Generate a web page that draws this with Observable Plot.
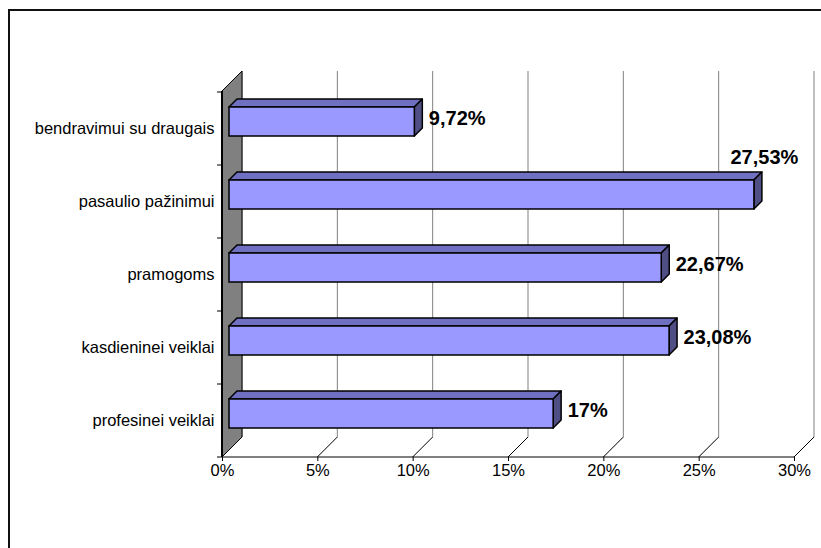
<!DOCTYPE html>
<html><head><meta charset="utf-8">
<script src="https://cdn.jsdelivr.net/npm/d3@7"></script>
<script src="https://cdn.jsdelivr.net/npm/@observablehq/plot@0.6"></script>
<style>
html,body{margin:0;padding:0;background:#fff;}
#wrap{position:relative;width:821px;height:548px;overflow:hidden;background:#fff;}
#border{position:absolute;left:8px;top:9px;width:900px;height:700px;border:2px solid #111;box-sizing:border-box;pointer-events:none;}
</style></head><body>
<div id="wrap"><div id="chart"></div><div id="border"></div></div>
<script>
const categories = ["bendravimui su draugais", "pasaulio pažinimui", "pramogoms", "kasdieninei veiklai", "profesinei veiklai"];
const values = [9.72, 27.53, 22.67, 23.08, 17];
const valueLabels = ["9,72%", "27,53%", "22,67%", "23,08%", "17%"];
const xTicks = [0, 5, 10, 15, 20, 25, 30];
const xTickLabels = ["0%", "5%", "10%", "15%", "20%", "25%", "30%"];

const data = categories.map((c, i) => ({category: c, value: values[i], label: valueLabels[i]}));
const xMax = xTicks[xTicks.length - 1];

const D = 20;      // floor depth (px)
const BOFF = 7;    // bar depth offset
const BD = 8;      // bar depth
const INSET = 22;

function bandwidth(y) {
  return y.bandwidth ? y.bandwidth() : 73;
}

const backWall = (index, {x, y}, ch, dim) => {
  const top = dim.marginTop, bot = dim.height - dim.marginBottom;
  const g = d3.create("svg:g");
  for (const t of xTicks) {
    g.append("line").attr("x1", x(t) + D).attr("x2", x(t) + D)
      .attr("y1", top - D).attr("y2", bot - D)
      .attr("stroke", "#808080").attr("stroke-width", 1);
    g.append("line").attr("x1", x(t)).attr("x2", x(t) + D)
      .attr("y1", bot).attr("y2", bot - D)
      .attr("stroke", "#000").attr("stroke-width", 1);
  }
  g.append("line").attr("x1", x(0)).attr("x2", x(xMax))
    .attr("y1", bot).attr("y2", bot).attr("stroke", "#000").attr("stroke-width", 1);
  const x0 = x(0);
  g.append("path")
    .attr("d", `M${x0},${top}L${x0 + D},${top - D}L${x0 + D},${bot - D}L${x0},${bot}Z`)
    .attr("fill", "#808080").attr("stroke", "#000").attr("stroke-width", 1);
  g.append("line").attr("x1", x0).attr("x2", x0).attr("y1", top).attr("y2", bot)
    .attr("stroke", "#000").attr("stroke-width", 2);
  // category boundary ticks
  const bw = bandwidth(y);
  const bounds = categories.map(c => y(c)).concat([y(categories[categories.length - 1]) + bw]);
  for (const b of bounds) {
    g.append("line").attr("x1", x0 - 5).attr("x2", x0).attr("y1", b).attr("y2", b)
      .attr("stroke", "#000").attr("stroke-width", 1);
  }
  return g.node();
};

const barFaces = (index, {x, y}) => {
  const g = d3.create("svg:g");
  const bw = bandwidth(y);
  for (const d of data) {
    const x1 = x(0) + BOFF, x2 = x(d.value) + BOFF;
    const yt = y(d.category) + INSET - BOFF, yb = y(d.category) + bw - INSET - BOFF;
    g.append("path")
      .attr("d", `M${x1},${yt}L${x1 + BD},${yt - BD}L${x2 + BD},${yt - BD}L${x2},${yt}Z`)
      .attr("fill", "#7070c2").attr("stroke", "#000").attr("stroke-width", 1.5).attr("stroke-linejoin", "round");
    g.append("path")
      .attr("d", `M${x2},${yt}L${x2 + BD},${yt - BD}L${x2 + BD},${yb - BD}L${x2},${yb}Z`)
      .attr("fill", "#4f4f86").attr("stroke", "#000").attr("stroke-width", 1.5).attr("stroke-linejoin", "round");
  }
  return g.node();
};

const fitsRight = d => d.value + 4.3 <= xMax;

const chart = Plot.plot({
  width: 821,
  height: 548,
  marginLeft: 222,
  marginRight: 27,
  marginTop: 91,
  marginBottom: 91,
  style: {fontFamily: "'Liberation Sans', Arial, sans-serif", fontSize: "16.5px", color: "#000", background: "#fff"},
  x: {domain: [0, xMax]},
  y: {domain: categories, padding: 0},
  marks: [
    backWall,
    barFaces,
    Plot.barX(data, {x: "value", y: "category", fill: "#9999ff", stroke: "#000", strokeWidth: 1.5,
      dx: BOFF, dy: -BOFF, insetTop: INSET, insetBottom: INSET}),
    Plot.axisX({ticks: xTicks, tickFormat: d => xTickLabels[xTicks.indexOf(d)], tickSize: 4, tickPadding: 3, label: null, fontSize: 16.5}),
    Plot.axisY({tickSize: 0, tickPadding: 8, label: null, fontSize: 16.5}),
    Plot.text(data.filter(fitsRight), {x: "value", y: "category", text: "label", textAnchor: "start",
      lineAnchor: "middle", dx: 21, dy: -10, fontSize: 20, fontWeight: "bold", fill: "#000"}),
    Plot.text(data.filter(d => !fitsRight(d)), {x: "value", y: "category", text: "label", textAnchor: "middle",
      lineAnchor: "middle", dx: 17, dy: -44, fontSize: 20, fontWeight: "bold", fill: "#000"})
  ]
});
document.getElementById("chart").appendChild(chart);
</script>
</body></html>
